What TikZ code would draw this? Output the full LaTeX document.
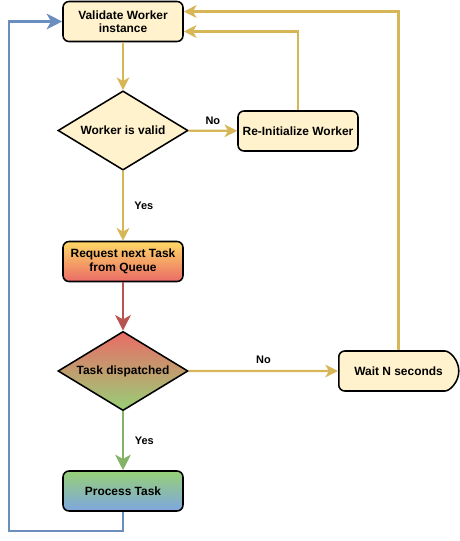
\documentclass[tikz,border=0pt]{standalone}
\usepackage{fontspec}
\setmainfont{Liberation Sans}
\usetikzlibrary{arrows.meta,shapes.geometric,shapes.misc}

\definecolor{cream}{HTML}{FFF2CC}
\definecolor{goldline}{HTML}{D6B656}
\definecolor{redline}{HTML}{B85450}
\definecolor{greenline}{HTML}{82B366}
\definecolor{blueline}{HTML}{6C8EBF}
\definecolor{gyellow}{HTML}{FFD966}
\definecolor{gred}{HTML}{EA6B66}
\definecolor{ggreen}{HTML}{97D077}
\definecolor{gblue}{HTML}{7EA6E0}

\begin{document}
\begin{tikzpicture}[x=0.025cm, y=-0.025cm,
		txt/.style={font=\bfseries\fontsize{8.5}{9.6}\selectfont},
		box/.style={txt, draw=black, line width=1.1pt, rounded corners=4.3pt, fill=cream, align=center,
			minimum width=3cm, minimum height=1cm, inner sep=0pt},
		decision/.style={txt, diamond, draw=black, line width=1.1pt, fill=cream, aspect=1.64,
			minimum width=3.25cm, minimum height=1.98cm, inner sep=0pt},
		lbl/.style={font=\bfseries\fontsize{7.8}{9}\selectfont},
		flow/.style={line width=1.5pt, -{Stealth[length=9pt, width=9pt, inset=2.5pt]}},
		bigflow/.style={line width=2.1pt, -{Stealth[length=11pt, width=11pt, inset=3pt]}}]
		\useasboundingbox (0,0) rectangle (460,541);

		\node[box]  (validate) at (123,21.5) {Validate Worker\\instance};
		\node[decision] (valid) at (123,130.5) {Worker is valid};
		\node[box]  (reinit) at (298,131) {Re-Initialize Worker};
		\node[box, top color=gyellow, bottom color=gred]  (request) at (123,261.5) {Request next Task\\from Queue};
		\node[decision, top color=gred, bottom color=ggreen] (dispatched) at (123,371) {Task dispatched};
		\node[box, rounded rectangle, rounded rectangle left arc=none, anchor=west]  (wait) at (338,371) {Wait N seconds};
		\node[box, top color=ggreen, bottom color=gblue]  (process) at (123,491) {Process Task};
		\coordinate (loop) at (9,531);

		\draw[flow, goldline] (validate) to (valid);
		\draw[flow, goldline] (valid) to node[lbl, above, text=black] {No} (reinit);
		\draw[flow, goldline] (reinit.north) |- ([yshift=-7.1pt]validate.east);
		\draw[flow, goldline] (wait.north) |- ([yshift=7.1pt]validate.east);
		\draw[flow, goldline] (valid) to node[lbl, right, text=black, xshift=4pt] {Yes} (request);
		\draw[bigflow, redline] (request) to (dispatched);
		\draw[flow, goldline] (dispatched) to node[lbl, above, text=black, yshift=1pt] {No} (wait);
		\draw[bigflow, greenline] (dispatched) to node[lbl, right, text=black, xshift=4pt] {Yes} (process);
		\draw[bigflow, blueline] (process.south) |- (loop) |- (validate.west);

	\end{tikzpicture}
\end{document}
